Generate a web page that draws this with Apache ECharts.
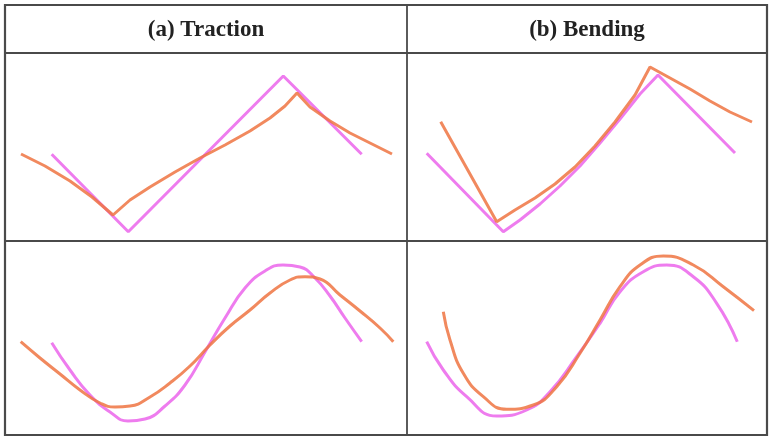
<!DOCTYPE html>
<html>
<head>
<meta charset="utf-8">
<script src="https://cdn.jsdelivr.net/npm/echarts@6/dist/echarts.min.js"></script>
<style>html,body{margin:0;padding:0;background:#fff}#c{width:771px;height:438px}</style>
</head>
<body>
<div id="c"></div>
<script>
// Column headers
var headers = ['(a) Traction', '(b) Bending'];

// Values (x from the cell's left edge, y from its bottom edge)
var tractionTopOrange = [[16,87],[40,75],[65,60],[87,44],[108,26],[125,41],[145,54],[170,69],[195,83],[220,96],[245,110],[265,123],[280,135],[292,148],[305,134],[325,120],[345,108],[365,98],[387,87]];
var tractionTopMagenta = [[46.7,86.7],[123.3,9.3],[278.3,165],[356.7,86.7]];

var bendingTopOrange = [[33.7,119.3],[89.7,19.3],[108,31],[128,43],[148,57],[168,74],[188,95],[208,119],[228,146],[243,174],[263,163],[283,152],[303,140],[323,129],[345,119]];
var bendingTopMagenta = [[19.7,87.7],[96.3,9.3],[113,21],[133,37],[153,55],[173,75],[193,98],[213,122],[233,147],[251,166],[328,88]];

var tractionBottomOrange = [[15.7,93.3],[35,77],[55,61],[75,45],[95,32],[110,28],[125,29],[145,38],[165,52],[185,69],[205,90],[225,109],[245,125],[265,142],[285,155],[300,158.3],[315,156],[335,140],[355,124],[375,107],[388.3,93.3]];
var tractionBottomMagenta = [[46.7,92.3],[65,65],[85,40],[105,23],[123,14],[140,16],[160,29],[180,50],[200,83],[220,117],[240,147],[260,164],[278,170],[295,168],[310,157],[325,139],[340,117],[356.7,93.3]];

var bendingBottomOrange = [[36.3,123.3],[43,95],[56.3,61.7],[76.3,38.3],[99.7,25.7],[126.3,30],[149.7,48.3],[173,81.7],[193,115],[213,148.3],[233,170],[256.3,179],[286.3,170],[316.3,148.3],[347,124.3]];
var bendingBottomMagenta = [[19.7,93.3],[36.3,65],[59.7,38.3],[89.7,19],[119.7,25],[143,43.3],[169.7,78.3],[193,111.7],[213,143.3],[236.3,163.3],[259.7,170],[286.3,158.3],[309.7,131.7],[330.3,93.3]];

var chart = echarts.init(document.getElementById('c'));

// Table layout
var L = 5, M = 407, R = 767, T = 5, H = 53, MID = 241, B = 435;
var cells = [
  {left: L, top: H, w: M - L, h: MID - H},
  {left: M, top: H, w: R - M, h: MID - H},
  {left: L, top: MID, w: M - L, h: B - MID},
  {left: M, top: MID, w: R - M, h: B - MID}
];
var seriesData = [
  [tractionTopOrange, tractionTopMagenta, false],
  [bendingTopOrange, bendingTopMagenta, false],
  [tractionBottomOrange, tractionBottomMagenta, true],
  [bendingBottomOrange, bendingBottomMagenta, true]
];

var grids = [], xAxes = [], yAxes = [], series = [];
cells.forEach(function (c, i) {
  grids.push({left: c.left, top: c.top, width: c.w, height: c.h});
  xAxes.push({type: 'value', gridIndex: i, min: 0, max: c.w, show: false});
  yAxes.push({type: 'value', gridIndex: i, min: 0, max: c.h, show: false});
  var sm = seriesData[i][2] ? 0.5 : false;
  series.push({
    type: 'line', xAxisIndex: i, yAxisIndex: i, data: seriesData[i][1],
    smooth: sm, symbol: 'none', z: 3,
    lineStyle: {color: '#EC6EEC', width: 3, opacity: 0.9}
  });
  series.push({
    type: 'line', xAxisIndex: i, yAxisIndex: i, data: seriesData[i][0],
    smooth: sm, symbol: 'none', z: 4,
    lineStyle: {color: '#EE7442', width: 3, opacity: 0.85}
  });
});

var lineColor = '#4a4a4a';
var font = 'bold 23px "Liberation Serif", "Times New Roman", serif';
var graphic = [
  {type: 'rect', shape: {x: L, y: T, width: R - L, height: B - T}, style: {fill: 'none', stroke: lineColor, lineWidth: 2.2}, z: 10},
  {type: 'line', shape: {x1: L, y1: H, x2: R, y2: H}, style: {stroke: lineColor, lineWidth: 1.8}, z: 10},
  {type: 'line', shape: {x1: L, y1: MID, x2: R, y2: MID}, style: {stroke: lineColor, lineWidth: 1.8}, z: 10},
  {type: 'line', shape: {x1: M, y1: T, x2: M, y2: B}, style: {stroke: lineColor, lineWidth: 1.8}, z: 10},
  {type: 'text', x: (L + M) / 2, y: 30, style: {text: headers[0], font: font, fill: '#222', textAlign: 'center', textVerticalAlign: 'middle'}, z: 10},
  {type: 'text', x: (M + R) / 2, y: 30, style: {text: headers[1], font: font, fill: '#222', textAlign: 'center', textVerticalAlign: 'middle'}, z: 10}
];

chart.setOption({
  animation: false,
  backgroundColor: '#fff',
  grid: grids, xAxis: xAxes, yAxis: yAxes, series: series, graphic: graphic
});
</script>
</body>
</html>
